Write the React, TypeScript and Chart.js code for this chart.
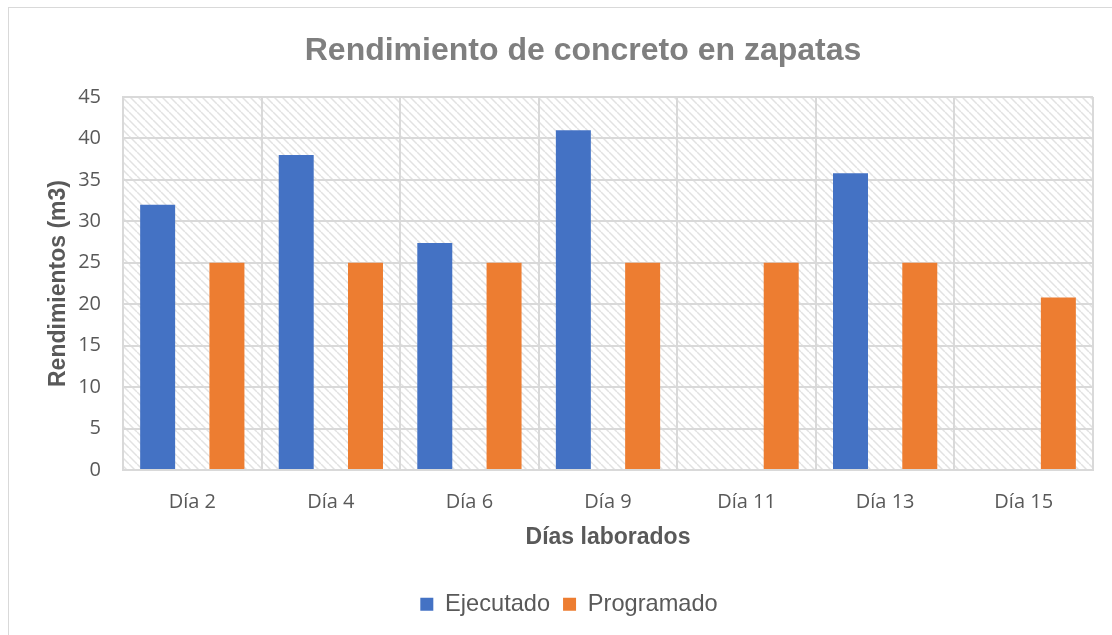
import React, { useEffect, useRef } from "react";
import { Chart, registerables } from "chart.js";

Chart.register(...registerables);

const categories = ["Día 2", "Día 4", "Día 6", "Día 9", "Día 11", "Día 13", "Día 15"];
const ejecutado: (number | null)[] = [32, 38, 27.4, 41, null, 35.8, null];
const programado: number[] = [25, 25, 25, 25, 25, 25, 20.8];
const seriesNames = ["Ejecutado", "Programado"];
const titleText = "Rendimiento de concreto en zapatas";
const yTitle = "Rendimientos (m3)";
const xTitle = "Días laborados";

const BLUE = "#4472C4";
const ORANGE = "#ED7D31";
const GRID = "#d9d9d9";
const TEXT = "#595959";

function makePattern(): CanvasPattern | string {
  const c = document.createElement("canvas");
  c.width = 8;
  c.height = 8;
  const g = c.getContext("2d");
  if (!g) return "#ffffff";
  g.fillStyle = "#ffffff";
  g.fillRect(0, 0, 8, 8);
  g.strokeStyle = "#e2e2e2";
  g.lineWidth = 1.5;
  for (const k of [-8, 0, 8]) {
    g.beginPath();
    g.moveTo(k, 0);
    g.lineTo(k + 8, 8);
    g.stroke();
  }
  const p = g.createPattern(c, "repeat");
  return p || "#ffffff";
}

export default function App() {
  const ref = useRef<HTMLCanvasElement | null>(null);

  useEffect(() => {
    if (!ref.current) return;
    const pattern = makePattern();
    const bgPlugin = {
      id: "hatchBg",
      beforeDraw(chart: any) {
        const { ctx, chartArea } = chart;
        ctx.save();
        ctx.fillStyle = pattern;
        ctx.fillRect(chartArea.left, chartArea.top, chartArea.right - chartArea.left, chartArea.bottom - chartArea.top);
        ctx.restore();
      },
    };
    const shiftPlugin = {
      id: "shiftBoxes",
      afterLayout(chart: any) {
        if (chart.titleBlock) {
          chart.titleBlock.left += 32;
          chart.titleBlock.right += 32;
        }
        if (chart.legend) {
          chart.legend.left += 18;
          chart.legend.right += 18;
        }
      },
    };
    const chart = new Chart(ref.current, {
      type: "bar",
      data: {
        labels: categories,
        datasets: [
          {
            label: seriesNames[0],
            data: ejecutado,
            backgroundColor: BLUE,
            categoryPercentage: 1.0,
            barPercentage: 0.505,
          },
          {
            label: seriesNames[1],
            data: programado,
            backgroundColor: ORANGE,
            categoryPercentage: 1.0,
            barPercentage: 0.505,
          },
        ],
      },
      plugins: [bgPlugin, shiftPlugin],
      options: {
        responsive: false,
        animation: false,
        layout: { padding: { left: 0, right: 19, top: 0, bottom: 9 } },
        plugins: {
          title: {
            display: true,
            text: titleText,
            color: "#7f7f7f",
            font: { family: "'Liberation Sans', Arial, sans-serif", size: 32, weight: "bold" },
            padding: { top: 24, bottom: 26.6 },
          },
          legend: {
            display: true,
            position: "bottom",
            labels: {
              boxWidth: 13,
              boxHeight: 13,
              padding: 13,
              color: TEXT,
              font: { family: "'Liberation Sans', Arial, sans-serif", size: 23.6 },
            },
          },
          tooltip: { enabled: false },
        },
        scales: {
          x: {
            grid: { color: GRID, lineWidth: 2, drawTicks: false, offset: true },
            border: { color: GRID, width: 2 },
            ticks: {
              color: TEXT,
              padding: 20,
              font: { family: "'Open Sans', sans-serif", size: 20 },
            },
            title: {
              display: true,
              text: xTitle,
              color: TEXT,
              font: { family: "'Liberation Sans', Arial, sans-serif", size: 23, weight: "bold" },
              padding: { top: 0, bottom: 27.6 },
            },
            afterFit(scale: any) {
              scale.height = 109.4;
            },
          },
          y: {
            min: 0,
            max: 45,
            ticks: {
              stepSize: 5,
              color: TEXT,
              padding: 22,
              font: { family: "'Open Sans', sans-serif", size: 20 },
            },
            grid: { color: GRID, lineWidth: 2, drawTicks: false },
            border: { color: GRID, width: 2 },
            title: {
              display: true,
              text: yTitle,
              color: TEXT,
              font: { family: "'Liberation Sans', Arial, sans-serif", size: 23, weight: "bold" },
              padding: { top: 36, bottom: 0 },
            },
            afterFit(scale: any) {
              scale.width = 114;
            },
          },
        },
      },
    });
    return () => chart.destroy();
  }, []);

  return (
    <div
      style={{
        position: "fixed",
        left: 8,
        top: 7,
        width: 1104,
        height: 628,
        borderLeft: "1px solid #d9d9d9",
        borderTop: "1px solid #d9d9d9",
        background: "#ffffff",
        overflow: "hidden",
      }}
    >
      <canvas ref={ref} width={1103} height={627} style={{ display: "block", width: 1103, height: 627 }} />
    </div>
  );
}
